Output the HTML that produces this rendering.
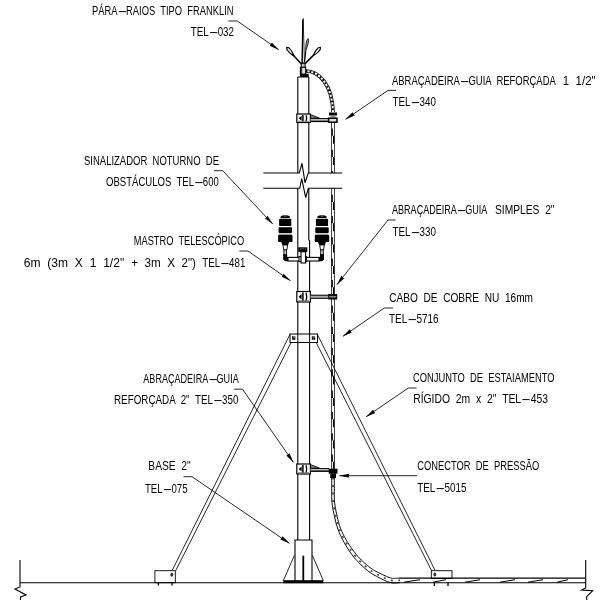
<!DOCTYPE html>
<html lang="pt">
<head>
<meta charset="utf-8">
<title>Mastro telescópico com pára-raios tipo Franklin</title>
<style>
html,body{margin:0;padding:0;background:#fff;}
body{width:600px;height:600px;overflow:hidden;font-family:"Liberation Sans",sans-serif;}
svg{display:block;position:absolute;left:0;top:0;will-change:transform;}
text{font-family:"Liberation Sans",sans-serif;font-size:12.4px;fill:#000;word-spacing:3.5px;}
.l{stroke:#000;stroke-width:1.1;fill:none;}
.t{stroke:#000;stroke-width:0.85;fill:none;}
.k{fill:#000;stroke:none;}
.w{fill:#fff;stroke:#000;stroke-width:1;}
</style>
</head>
<body>
<svg width="600" height="600" viewBox="0 0 600 600">
<rect width="600" height="600" fill="#fff"/>

<!-- ===== LABELS ===== -->
<g id="labels">
<text x="92" y="14.8" textLength="141.5" lengthAdjust="spacingAndGlyphs">PÁRA<tspan textLength="10" lengthAdjust="spacingAndGlyphs">-</tspan><tspan dx="1.4">RAIOS TIPO FRANKLIN</tspan></text>
<text x="190.7" y="36" textLength="43.3" lengthAdjust="spacingAndGlyphs">TEL<tspan textLength="10" lengthAdjust="spacingAndGlyphs">-</tspan><tspan dx="1.4">032</tspan></text>

<text x="84" y="165.2" textLength="135" lengthAdjust="spacingAndGlyphs">SINALIZADOR NOTURNO DE</text>
<text x="106" y="185.5" textLength="112.8" lengthAdjust="spacingAndGlyphs">OBSTÁCULOS TEL<tspan textLength="10" lengthAdjust="spacingAndGlyphs">-</tspan><tspan dx="1.4">600</tspan></text>

<text x="133.8" y="245" textLength="110.4" lengthAdjust="spacingAndGlyphs">MASTRO TELESCÓPICO</text>
<text x="23.8" y="266.6" textLength="100.4" lengthAdjust="spacingAndGlyphs">6m (3m X 1 1/2"</text>
<text x="131.2" y="266.6" textLength="64.8" lengthAdjust="spacingAndGlyphs">+ 3m X 2")</text>
<text x="202.3" y="266.6" textLength="43" lengthAdjust="spacingAndGlyphs">TEL<tspan textLength="10" lengthAdjust="spacingAndGlyphs">-</tspan><tspan dx="1.4">481</tspan></text>

<text x="143.3" y="383.3" textLength="95.4" lengthAdjust="spacingAndGlyphs">ABRAÇADEIRA<tspan textLength="10" lengthAdjust="spacingAndGlyphs">-</tspan><tspan dx="1.4">GUIA</tspan></text>
<text x="114" y="404.3" textLength="124.4" lengthAdjust="spacingAndGlyphs">REFORÇADA 2" TEL<tspan textLength="10" lengthAdjust="spacingAndGlyphs">-</tspan><tspan dx="1.4">350</tspan></text>

<text x="148.3" y="470" textLength="42.4" lengthAdjust="spacingAndGlyphs">BASE 2"</text>
<text x="145" y="492.5" textLength="42.5" lengthAdjust="spacingAndGlyphs">TEL<tspan textLength="10" lengthAdjust="spacingAndGlyphs">-</tspan><tspan dx="1.4">075</tspan></text>

<text x="392" y="84.6" textLength="163.8" lengthAdjust="spacingAndGlyphs">ABRAÇADEIRA<tspan textLength="10" lengthAdjust="spacingAndGlyphs">-</tspan><tspan dx="1.4">GUIA REFORÇADA</tspan></text>
<text x="562.8" y="84.6" textLength="32.8" lengthAdjust="spacingAndGlyphs">1 1/2"</text>
<text x="392.5" y="105.6" textLength="43.5" lengthAdjust="spacingAndGlyphs">TEL<tspan textLength="10" lengthAdjust="spacingAndGlyphs">-</tspan><tspan dx="1.4">340</tspan></text>

<text x="392" y="214.2" textLength="95.3" lengthAdjust="spacingAndGlyphs">ABRAÇADEIRA<tspan textLength="10" lengthAdjust="spacingAndGlyphs">-</tspan><tspan dx="1.4">GUIA</tspan></text>
<text x="495" y="214.2" textLength="59.5" lengthAdjust="spacingAndGlyphs">SIMPLES 2"</text>
<text x="392.5" y="235.6" textLength="43.5" lengthAdjust="spacingAndGlyphs">TEL<tspan textLength="10" lengthAdjust="spacingAndGlyphs">-</tspan><tspan dx="1.4">330</tspan></text>

<text x="389.2" y="302" textLength="143.8" lengthAdjust="spacingAndGlyphs">CABO DE COBRE NU 16mm</text>
<text x="389" y="322.8" textLength="49.6" lengthAdjust="spacingAndGlyphs">TEL<tspan textLength="10" lengthAdjust="spacingAndGlyphs">-</tspan><tspan dx="1.4">5716</tspan></text>

<text x="413" y="382.2" textLength="141.5" lengthAdjust="spacingAndGlyphs">CONJUNTO DE ESTAIAMENTO</text>
<text x="413.2" y="403.4" textLength="134.8" lengthAdjust="spacingAndGlyphs">RÍGIDO 2m x 2" TEL<tspan textLength="10" lengthAdjust="spacingAndGlyphs">-</tspan><tspan dx="1.4">453</tspan></text>

<text x="417.2" y="470" textLength="122" lengthAdjust="spacingAndGlyphs">CONECTOR DE PRESSÃO</text>
<text x="417.2" y="491.5" textLength="49.3" lengthAdjust="spacingAndGlyphs">TEL<tspan textLength="10" lengthAdjust="spacingAndGlyphs">-</tspan><tspan dx="1.4">5015</tspan></text>
</g>

<!-- ===== LEADERS ===== -->
<defs>
<marker id="ah" markerWidth="10" markerHeight="6" refX="9.5" refY="3" orient="auto" markerUnits="userSpaceOnUse">
<path d="M0,1.1 L10,3 L0,4.9 Z" fill="#000"/>
</marker>
</defs>
<g id="leaders" class="t" marker-end="url(#ah)">
<polyline points="228.3,21 237.3,21 278.5,49.6"/>
<polyline points="214,170.7 222.7,170.7 272.7,224"/>
<polyline points="239.3,251 248,251 290.4,280.7"/>
<polyline points="234.2,389.2 242.5,389.2 293.3,462.2"/>
<polyline points="183.5,476.7 192,476.7 289.3,543.3"/>
<polyline points="396,90.4 388,90.4 345.7,119.3"/>
<polyline points="395.5,220 388,220 337,284.5"/>
<polyline points="393,308 384.3,308 343,336.3"/>
<polyline points="416.6,388 408.3,388 366.3,416.7"/>
<polyline points="417.2,475.7 339.5,475.7"/>
</g>

<!-- ===== GROUND ===== -->
<g id="ground" class="l">
<path d="M20,560 L20,587 L15,589 L26,595 L20.5,597 L20.5,600"/>
<path d="M20,582.7 L585.7,582.7"/>
<path d="M585.7,560 L585.7,588 L581.7,590 L592.7,590.7 L586.7,596.7 L586.7,600"/>
</g>

<!-- ===== CABLE ===== -->
<g id="cable" fill="none">
<path d="M305.7,71 C319,71 332.5,85 333,112" stroke="#000" stroke-width="3.6"/>
<path d="M305.7,71 C319,71 332.5,85 333,112" stroke="#fff" stroke-width="2"/>
<path d="M305.7,71 C319,71 332.5,85 333,112" stroke="#000" stroke-width="2" stroke-dasharray="1.8 2.1"/>
<path d="M333,122 L333,173 M333,188.3 L333,294 M333,299 L333,468.7" stroke="#000" stroke-width="3.8"/>
<path d="M333,122 L333,173 M333,188.3 L333,294 M333,299 L333,468.7" stroke="#fff" stroke-width="2.4"/>
<path d="M332.2,122 L332.2,173 M332.2,188.3 L332.2,294 M332.2,299 L332.2,468.7" stroke="#000" stroke-width="1.3" stroke-dasharray="7.3 14" stroke-dashoffset="-6.4"/>
<path d="M333.6,122 L333.6,173 M333.6,188.3 L333.6,294 M333.6,299 L333.6,468.7" stroke="#000" stroke-width="1.3" stroke-dasharray="8 13.3" stroke-dashoffset="-13.7"/>
<path d="M333.0,477.5 L333.0,479.1 L333.0,480.6 L333.0,482.2 L333.0,483.8 L333.0,485.3 L333.0,486.9 L333.0,488.4 L333.0,490.0 L333.0,491.6 L333.0,493.1 L333.0,494.7 L333.0,496.2 L333.0,497.8 L333.1,499.4 L333.2,500.9 L333.3,502.5 L333.5,504.1 L333.7,505.6 L333.9,507.2 L334.2,508.8 L334.5,510.3 L334.8,511.9 L335.2,513.4 L335.5,515.0 L335.8,516.6 L336.2,518.1 L336.5,519.7 L336.9,521.2 L337.3,522.8 L337.7,524.4 L338.2,525.9 L338.8,527.5 L339.3,529.1 L340.0,530.6 L340.6,532.2 L341.3,533.8 L342.1,535.3 L342.8,536.9 L343.7,538.4 L344.5,540.0 L345.4,541.6 L346.4,543.2 L347.4,544.9 L348.4,546.5 L349.4,548.1 L350.5,549.6 L351.5,551.1 L352.5,552.5 L353.4,553.8 L354.4,555.0 L355.2,556.1 L356.1,557.1 L357.0,558.1 L358.0,559.2 L358.9,560.2 L360.0,561.2 L361.1,562.4 L362.3,563.5 L363.6,564.7 L364.8,565.8 L366.1,566.9 L367.4,568.0 L368.7,569.0 L370.0,570.0 L371.2,570.9 L372.5,571.7 L373.7,572.4 L374.9,573.1 L376.2,573.8 L377.4,574.5 L378.7,575.1 L380.0,575.8 L381.3,576.4 L382.7,577.1 L384.1,577.8 L385.6,578.4 L387.0,579.0 L388.4,579.6 L389.7,580.0 L391.0,580.4 L392.2,580.6 L393.4,580.7 L394.5,580.7 L395.6,580.7 L396.7,580.6 L397.8,580.5 L398.9,580.4 L400.0,580.4" stroke="#fff" stroke-width="2.8"/>
<path d="M331.7,477.5 L331.7,479.1 L331.7,480.6 L331.7,482.2 L331.7,483.7 L331.7,485.3 L331.7,486.9 L331.7,488.4 L331.7,490.0 L331.7,491.6 L331.7,493.1 L331.7,494.7 L331.7,496.3 L331.7,497.8 L331.8,499.4 L331.9,501.0 L332.0,502.6 L332.2,504.2 L332.4,505.8 L332.7,507.4 L332.9,509.0 L333.2,510.6 L333.6,512.1 L333.9,513.7 L334.2,515.3 L334.6,516.8 L334.9,518.4 L335.3,520.0 L335.6,521.6 L336.0,523.1 L336.5,524.7 L337.0,526.3 L337.5,527.9 L338.1,529.6 L338.7,531.1 L339.3,532.7 L340.0,534.3 L340.8,535.9 L341.5,537.5 L342.3,539.1 L343.2,540.7 L344.1,542.3 L345.0,544.0 L346.0,545.7 L347.0,547.3 L348.1,549.0 L349.1,550.6 L350.1,552.1 L351.1,553.5 L352.1,554.8 L353.0,556.0 L353.9,557.2 L354.8,558.3 L355.7,559.3 L356.7,560.4 L357.7,561.4 L358.7,562.5 L359.8,563.7 L361.0,564.9 L362.3,566.1 L363.6,567.2 L364.9,568.4 L366.2,569.5 L367.5,570.6 L368.8,571.6 L370.1,572.5 L371.4,573.4 L372.7,574.2 L373.9,574.9 L375.2,575.6 L376.5,576.3 L377.8,577.0 L379.1,577.7 L380.4,578.3 L381.8,579.0 L383.2,579.8 L384.7,580.4 L386.1,581.1 L387.6,581.7 L389.1,582.2 L390.5,582.6 L391.9,582.9 L393.3,583.0 L394.6,583.0 L395.8,583.0 L396.9,582.9 L398.0,582.8 L399.0,582.7 L400.1,582.7" stroke="#000" stroke-width="1"/>
<path d="M334.3,477.5 L334.3,479.1 L334.3,480.6 L334.3,482.2 L334.3,483.8 L334.3,485.3 L334.3,486.9 L334.3,488.4 L334.3,490.0 L334.3,491.6 L334.3,493.1 L334.3,494.7 L334.3,496.2 L334.3,497.8 L334.4,499.3 L334.5,500.8 L334.6,502.4 L334.8,503.9 L335.0,505.4 L335.2,507.0 L335.5,508.5 L335.8,510.1 L336.1,511.6 L336.4,513.2 L336.8,514.7 L337.1,516.3 L337.4,517.8 L337.8,519.4 L338.2,520.9 L338.6,522.5 L339.0,524.0 L339.5,525.5 L340.0,527.1 L340.6,528.6 L341.2,530.1 L341.9,531.6 L342.6,533.2 L343.4,534.7 L344.1,536.2 L345.0,537.7 L345.8,539.3 L346.7,540.8 L347.7,542.4 L348.7,544.0 L349.7,545.6 L350.8,547.2 L351.8,548.7 L352.9,550.2 L353.9,551.5 L354.8,552.7 L355.7,553.9 L356.6,555.0 L357.5,556.0 L358.3,556.9 L359.3,557.9 L360.2,558.9 L361.3,560.0 L362.4,561.0 L363.6,562.2 L364.8,563.3 L366.1,564.4 L367.4,565.5 L368.7,566.5 L369.9,567.5 L371.2,568.4 L372.4,569.2 L373.6,570.0 L374.7,570.7 L375.9,571.3 L377.2,572.0 L378.4,572.6 L379.6,573.2 L380.9,573.8 L382.3,574.5 L383.7,575.2 L385.1,575.8 L386.5,576.4 L387.8,577.0 L389.1,577.5 L390.4,577.9 L391.5,578.2 L392.5,578.4 L393.5,578.4 L394.5,578.4 L395.5,578.4 L396.5,578.3 L397.6,578.2 L398.8,578.1 L399.9,578.1" stroke="#000" stroke-width="1"/>
<path d="M333.0,477.5 L333.0,479.1 L333.0,480.6 L333.0,482.2 L333.0,483.8 L333.0,485.3 L333.0,486.9 L333.0,488.4 L333.0,490.0 L333.0,491.6 L333.0,493.1 L333.0,494.7 L333.0,496.2 L333.0,497.8 L333.1,499.4 L333.2,500.9 L333.3,502.5 L333.5,504.1 L333.7,505.6 L333.9,507.2 L334.2,508.8 L334.5,510.3 L334.8,511.9 L335.2,513.4 L335.5,515.0 L335.8,516.6 L336.2,518.1 L336.5,519.7 L336.9,521.2 L337.3,522.8 L337.7,524.4 L338.2,525.9 L338.8,527.5 L339.3,529.1 L340.0,530.6 L340.6,532.2 L341.3,533.8 L342.1,535.3 L342.8,536.9 L343.7,538.4 L344.5,540.0 L345.4,541.6 L346.4,543.2 L347.4,544.9 L348.4,546.5 L349.4,548.1 L350.5,549.6 L351.5,551.1 L352.5,552.5 L353.4,553.8 L354.4,555.0 L355.2,556.1 L356.1,557.1 L357.0,558.1 L358.0,559.2 L358.9,560.2 L360.0,561.2 L361.1,562.4 L362.3,563.5 L363.6,564.7 L364.8,565.8 L366.1,566.9 L367.4,568.0 L368.7,569.0 L370.0,570.0 L371.2,570.9 L372.5,571.7 L373.7,572.4 L374.9,573.1 L376.2,573.8 L377.4,574.5 L378.7,575.1 L380.0,575.8 L381.3,576.4 L382.7,577.1 L384.1,577.8 L385.6,578.4 L387.0,579.0 L388.4,579.6 L389.7,580.0 L391.0,580.4 L392.2,580.6 L393.4,580.7 L394.5,580.7 L395.6,580.7 L396.7,580.6 L397.8,580.5 L398.9,580.4 L400.0,580.4" stroke="#000" stroke-width="1.6" stroke-dasharray="2 5.5" opacity="0.75"/>
<path d="M399.5,578.1 L585.7,578.1" stroke="#000" stroke-width="1.1"/>
<path d="M404,582.2 L420,579.7 M433,582.2 L446,579.7 M465,582.2 L480,579.7 M500,582.2 L515,579.7 M528,582.2 L543,579.7 M557,582.2 L568,579.7" stroke="#000" stroke-width="1"/>
</g>

<!-- ===== MAST ===== -->
<g id="mast" class="l">
<path d="M297.8,77 L297.8,173 M308.8,77 L308.8,173 M297.8,77 L308.8,77"/>
<path d="M297.8,188.3 L297.8,540 M308.8,188.3 L308.8,240 L309.6,240.5 L309.6,540"/>
<!-- break -->
<path d="M263.3,173 L299.3,173 L302,163.3 L305,182.7 L308.3,173 L342.2,173"/>
<path d="M263.3,188.3 L299.7,188.3 L301.7,178.7 L305.7,197.7 L308.3,188.3 L342.2,188.3"/>
</g>

<!-- ===== FRANKLIN ROD ===== -->
<g id="rod">
<polygon points="303.1,18.5 302,62.8 304.5,62.8" fill="#fff" stroke="#000" stroke-width="0.8" stroke-linejoin="round"/>
<path d="M302.7,20 L302.2,62.8" stroke="#000" stroke-width="1.2" fill="none"/>
<path d="M301.6,64.3 L293.6,55.6 M305.2,63.6 L313.8,54.9" stroke="#000" stroke-width="1.5" fill="none"/>
<path d="M304.6,62 L306,49" stroke="#000" stroke-width="1.1" fill="none"/>
<polygon points="286.7,47.3 286.9,49.7 289.5,52.7 293.3,55.8 293.9,55.4 291.5,51.0 289.0,47.9" fill="#fff" stroke="#000" stroke-width="1.15" stroke-linejoin="round"/>
<polygon points="320.4,47.3 318.2,47.8 315.8,50.6 313.5,54.7 314.1,55.1 317.8,52.4 320.2,49.6" fill="#fff" stroke="#000" stroke-width="1.15" stroke-linejoin="round"/>
<polygon points="308.1,38.5 306.8,40.2 306.0,44.1 305.7,48.9 306.3,49.1 307.9,44.5 308.7,40.6" fill="#999" stroke="#000" stroke-width="0.8" stroke-linejoin="round"/>
<rect x="301.3" y="63.3" width="3.8" height="4.2" fill="#bbb" stroke="#000" stroke-width="1"/>
<rect x="300.4" y="67.3" width="5.3" height="7" fill="#ddd" stroke="#000" stroke-width="1.1"/>
<path d="M301.6,68 L301.6,74" stroke="#222" stroke-width="1"/>
<rect class="k" x="300" y="73.8" width="8.7" height="3.2"/>
</g>

<!-- ===== CLAMPS ===== -->
<g id="clamp1">
<rect x="296.8" y="114" width="13.6" height="8.5" fill="#fff" stroke="#000" stroke-width="1.2"/>
<path class="k" d="M298.6,118.25 L301.6,115.7 L301.6,120.8 Z"/>
<path d="M302.9,115 L302.9,121.5" stroke="#000" stroke-width="1.5"/>
<path d="M306.1,115.2 Q307.3,118.25 306.1,121.3" stroke="#000" stroke-width="1.3" fill="none"/>
<path d="M298,121.2 L309,121.2" stroke="#666" stroke-width="0.8"/>
<path d="M310.5,114.6 L319.5,118.2 L310.5,118.2 Z" fill="#888" stroke="#000" stroke-width="0.9"/>
<rect x="310.5" y="118.4" width="18.5" height="3.2" fill="#bbb"/>
<path d="M310.5,118.5 L329,118.5" stroke="#000" stroke-width="0.9"/>
<path d="M310.5,121.4 L329,121.4" stroke="#000" stroke-width="1.4"/>
<rect class="k" x="329" y="112.5" width="8" height="3"/>
<rect x="330.5" y="115.5" width="5" height="2" fill="#888"/>
<rect x="328.6" y="118.2" width="8.4" height="4" fill="#ddd" stroke="#000" stroke-width="1.5"/>
</g>
<g id="clamp2">
<rect x="296.8" y="291.5" width="13.6" height="10.5" fill="#fff" stroke="#000" stroke-width="1.2"/>
<path class="k" d="M298.6,296.75 L301.6,294.1 L301.6,299.4 Z"/>
<path d="M302.9,292.5 L302.9,301" stroke="#000" stroke-width="1.5"/>
<path d="M306.1,292.7 Q307.3,296.75 306.1,300.8" stroke="#000" stroke-width="1.3" fill="none"/>
<path d="M298,300.7 L309,300.7" stroke="#666" stroke-width="0.8"/>
<rect x="310.5" y="295" width="18" height="3.5" fill="#aaa"/>
<path d="M310.5,295.2 L328.5,295.2 M310.5,298.3 L328.5,298.3" stroke="#000" stroke-width="1"/>
<rect x="328.2" y="294" width="9" height="5.5" fill="#000"/>
<rect x="329.3" y="296.1" width="6.8" height="1.3" fill="#999"/>
</g>
<g id="clamp3">
<rect x="296.8" y="464" width="13.6" height="10" fill="#fff" stroke="#000" stroke-width="1.2"/>
<path class="k" d="M298.6,469.0 L301.6,466.4 L301.6,471.6 Z"/>
<path d="M302.9,465 L302.9,473" stroke="#000" stroke-width="1.5"/>
<path d="M306.1,465.2 Q307.3,469.0 306.1,472.8" stroke="#000" stroke-width="1.3" fill="none"/>
<path d="M298,472.7 L309,472.7" stroke="#666" stroke-width="0.8"/>
<path d="M310.5,464.6 L319.5,468.2 L310.5,468.2 Z" fill="#888" stroke="#000" stroke-width="0.9"/>
<rect x="310.5" y="468.4" width="18.5" height="3" fill="#bbb"/>
<path d="M310.5,468.5 L329,468.5" stroke="#000" stroke-width="0.9"/>
<path d="M310.5,471.2 L329,471.2" stroke="#000" stroke-width="1.4"/>
<rect x="328.7" y="468.7" width="8.8" height="5" fill="#000"/>
<rect x="330.2" y="473.5" width="5.8" height="4.5" fill="#000"/>
</g>

<!-- ===== LAMPS ===== -->
<g id="lamps">
<g id="lampL">
<path class="k" d="M280.6,217.9 L280.6,216.6 Q281.9,215 285.2,214.9 Q288.6,215 289.9,216.6 L289.9,217.9 Z"/>
<rect x="284.1" y="215.5" width="2.4" height="0.9" fill="#aaa"/>
<rect class="k" x="279.1" y="218.8" width="12.2" height="7.2" rx="0.8"/>
<rect class="k" x="278.6" y="227.2" width="13.4" height="5.9" rx="0.8"/>
<rect x="278.9" y="233" width="12.8" height="2" fill="#ccc"/>
<rect class="k" x="278.1" y="234.7" width="14.4" height="7.4" rx="1.2"/>
<path class="k" d="M281.2,242 L289.2,242 L288.1,245 L282.4,245 Z"/>
<path d="M282.9,245 L287.6,245 L286.8,250 L283.8,250 Z" fill="#fff" stroke="#000" stroke-width="0.9"/>
<rect x="283.9" y="250" width="2.6" height="5" fill="#ccc" stroke="#000" stroke-width="0.9"/>
<path class="k" d="M283.2,254.2 L287.2,254.2 L287.2,257 L288.4,257 L288.4,261.2 L285.1,261.2 L283.2,259.4 Z"/>
</g>
<g id="lampR">
<path class="k" d="M317.4,217.9 L317.4,216.6 Q318.6,215 322.0,214.9 Q325.4,215 326.6,216.6 L326.6,217.9 Z"/>
<rect x="320.8" y="215.5" width="2.4" height="0.9" fill="#aaa"/>
<rect class="k" x="315.9" y="218.8" width="12.2" height="7.2" rx="0.8"/>
<rect class="k" x="315.3" y="227.2" width="13.4" height="5.9" rx="0.8"/>
<rect x="315.6" y="233" width="12.8" height="2" fill="#ccc"/>
<rect class="k" x="314.8" y="234.7" width="14.4" height="7.4" rx="1.2"/>
<path class="k" d="M318.0,242 L326.0,242 L324.8,245 L319.2,245 Z"/>
<path d="M319.7,245 L324.3,245 L323.5,250 L320.5,250 Z" fill="#fff" stroke="#000" stroke-width="0.9"/>
<rect x="320.7" y="250" width="2.6" height="5" fill="#ccc" stroke="#000" stroke-width="0.9"/>
<path class="k" d="M324.0,254.2 L320.0,254.2 L320.0,257 L318.8,257 L318.8,261.2 L322.2,261.2 L324.0,259.4 Z"/>
</g>
<rect x="288" y="257.4" width="31" height="3.6" fill="#fff" stroke="#000" stroke-width="1.1"/>
<rect x="299" y="256.6" width="7.6" height="5" fill="#eee" stroke="#000" stroke-width="1"/>
<rect class="k" x="298.3" y="247.3" width="9" height="4.6"/>
<path d="M300.2,249 L301.4,249 M302.6,248.6 L303.6,248.6 M304.8,249 L305.8,249" stroke="#bbb" stroke-width="0.8"/>
<rect x="301" y="251.8" width="4.6" height="11.2" fill="#fff" stroke="#000" stroke-width="1.1"/>
</g>

<!-- ===== TRIPOD ===== -->
<g id="tripod" class="t">
<path d="M290,334.25 L172.4,570 M291.1,342.5 L175.7,570.7"/>
<path d="M317.3,334.25 L434.9,570 M316.2,342.5 L431.6,570.7"/>
<rect x="290" y="334" width="27.5" height="8.5" fill="#fff" stroke="#000" stroke-width="1"/>
<path d="M297.8,334 L297.8,342.5 M309.6,334 L309.6,342.5" stroke-width="1"/>
<rect x="292" y="336.2" width="3.4" height="3.6" fill="#222" stroke="none"/><rect x="293.6" y="336.4" width="1.3" height="1.3" fill="#bbb" stroke="none"/>
<rect x="311.8" y="336.2" width="3.4" height="3.6" fill="#222" stroke="none"/><rect x="313.4" y="336.4" width="1.3" height="1.3" fill="#bbb" stroke="none"/>
</g>
<g id="feet" class="l" style="stroke-width:0.9">
<rect x="154.9" y="570.7" width="20.4" height="12" fill="none"/>
<path d="M158.4,582.7 L158.4,585.6 M172,582.7 L172,585.6" stroke-width="1.3"/>
<ellipse cx="171.8" cy="574.7" rx="1" ry="1.6" stroke-width="0.8" fill="#555"/>
<rect x="431.3" y="570.7" width="20.7" height="7.7" fill="none"/>
<path d="M434.4,582.7 L434.4,586 M448,582.7 L448,586" stroke-width="1.3"/>
<ellipse cx="434.8" cy="574.5" rx="1" ry="1.6" stroke-width="0.8" fill="#555"/>
</g>

<!-- ===== BASE ===== -->
<g id="base">
<path class="l" d="M295,581 L295,540 L312,540 L312,581"/>
<path class="t" d="M294.4,555.3 L283.3,580.7 M312.4,555.3 L323.3,580.7"/>
<path d="M303.3,555.7 L303.3,581" stroke="#000" stroke-width="1.8"/>
<rect class="k" x="283.3" y="580.2" width="40" height="3"/>
</g>
</svg>
</body>
</html>
